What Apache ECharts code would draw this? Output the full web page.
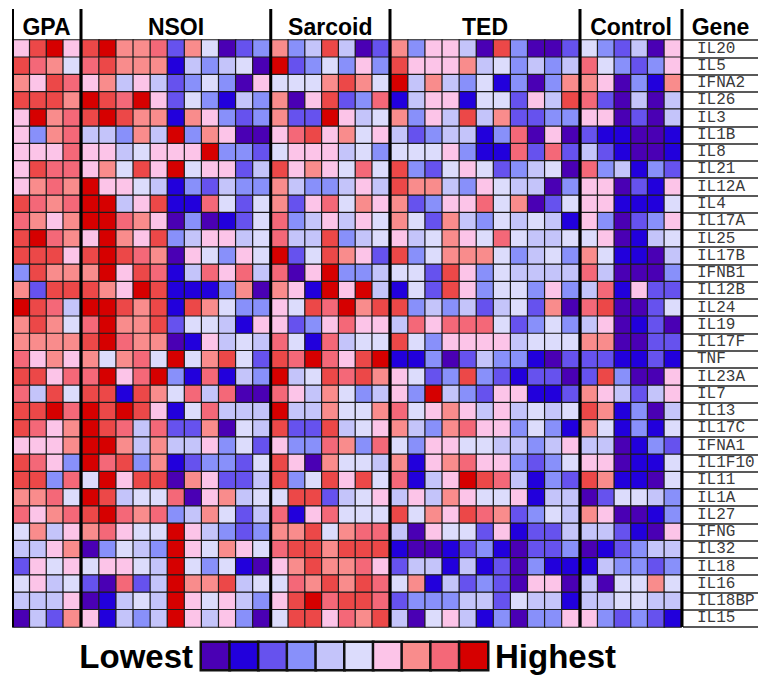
<!DOCTYPE html>
<html><head><meta charset="utf-8">
<script src="https://cdn.jsdelivr.net/npm/echarts@6/dist/echarts.min.js"></script>
<style>html,body{margin:0;padding:0;background:#fff}#c{width:758px;height:675px}</style>
</head><body><div id="c"></div>
<script>
const genes = ['IL20','IL5','IFNA2','IL26','IL3','IL1B','IL8','IL21','IL12A','IL4','IL17A','IL25','IL17B','IFNB1','IL12B','IL24','IL19','IL17F','TNF','IL23A','IL7','IL13','IL17C','IFNA1','IL1F10','IL11','IL1A','IL27','IFNG','IL32','IL18','IL16','IL18BP','IL15'];
const groups = ['GPA','NSOI','Sarcoid','TED','Control'];
const geneHeader = 'Gene';
const legendText = ['Lowest','Highest'];
const legendLevels = [1,2,3,4,5,6,7,8,9,10];

// expression level per cell (1 = lowest ... 10 = highest), rows follow `genes`
const GPA = [
[7,9.5,10,7],[9.5,9,8,6],[8,7,9.5,9],[9.5,9.5,9.5,8],[7,10,8,9],[7,4,8,9],[7,7,7,9],[7,9.5,9,9],
[7,8,9,8],[9.5,9,8,9],[9,8,7,8],[9.5,10,9,8],[9.5,9.5,9.5,7],[4,9.5,8,8],[8,3,9.5,9.5],[10,9.5,9,5],
[8,9.5,8,6],[8,8,8,8],[9,7,8,7],[9.5,9.5,7,9],[9,5,9.5,6],[9.5,9.5,10,9],[9.5,9,7,8],[7,7,7,8],
[9.5,9,7,4],[9.5,9.5,4,9],[8,8,9,6],[9,7,8,9],[6,8,5,7],[5,5,7,8],[3,7,6,7],[6,7,5,6],[5,5,5,7],[1,5,3,8]];
const NSOI = [
[9.5,10,8,8,9,3,8,6,1,3,4],[9,9.5,8,8,8,2,5,4,5,6,1],[7,8,5,7,5,3,4,6,4,1,7],[10,9.5,9,10,7,3,6,4,2,5,4],
[9.5,10,9.5,8,8,2,8,7,4,3,4],[5,5,4,8,5,10,4,8,7,1,1],[7,7,5,6,7,7,7,10,4,4,3],[7,8,6,9.5,7,10,6,7,7,3,5],
[10,7,7,6,5,2,4,3,5,4,4],[10,10,5,7,9.5,2,2,9,6,3,6],[10,10,9,8,7,1,4,1,2,3,6],[7,10,8,7,9.5,4,5,7,7,5,6],
[9.5,10,9.5,9,8,1,7,6,4,7,6],[8,10,7,9.5,9,2,5,9,7,9,5],[9.5,8,7,10,9.5,2,2,2,4,8,1],[10,10,9.5,8,9.5,2,9.5,8,6,4,4],
[9,10,8,8,9.5,3,6,6,5,2,7],[9.5,10,9,8,8,1,2,7,5,6,5],[8,6,8,9,6,10,6,8,9.5,6,3],[9,10,7,9,10,4,2,9,2,5,4],
[9.5,9.5,2,9.5,8,6,9,5,9,1,1],[10,9.5,10,9.5,7,2,6,9,5,5,5],[10,9.5,9,5,9,3,3,8,1,6,5],[10,10,8,5,8,5,5,7,4,6,3],
[10,9,9.5,4,8,2,3,4,4,3,6],[6,10,7,9.5,9.5,1,8,7,3,3,5],[10,9.5,5,6,6,9,1,7,8,5,6],[9.5,10,9,8,9,4,5,8,6,3,5],
[8,9,7,6,6,10,7,5,4,3,4],[1,4,6,5,4,10,7,6,8,7,6],[6,7,7,6,5,10,6,4,6,2,1],[3,1,9,3,5,10,8,8,9.5,5,6],
[1,2,5,6,5,10,7,6,7,5,4],[7,2,5,4,5,10,7,5,7,4,1]];
const Sarcoid = [
[8,4,5,9.5,5,1,3],[10,3,4,6,4,7,4],[6,6,6,8,9.5,8,6],[8,1,7,9.5,3,4,9],[8,3,3,10,7,5,6],[7,9,9.5,7,8,6,7],
[6,7,7,7,5,6,4],[9.5,7,8,7,6,9,6],[8,5,4,4,5,7,5],[8,3,7,9,6,8,7],[9,4,5,7,5,7,6],[9,5,5,9.5,4,5,6],
[10,3,6,9.5,8,7,3],[9,1,7,10,4,4,5],[8,7,2,10,7,10,5],[7,6,9.5,9,10,8,9.5],[7,3,4,7,9,7,7],[9,6,2,9,5,6,6],
[9.5,9,10,9,7,9.5,10],[10,5,6,9.5,9,9.5,8],[9,7,5,8,6,4,5],[10,5,5,8,6,6,8],[9.5,3,3,9.5,5,6,7],[7,4,4,9,8,4,9],
[9.5,7,1,8,6,6,5],[9.5,4,6,9.5,7,9.5,6],[6,9.5,9.5,3,5,6,7],[9,2,7,9,6,6,6],[8,8,9.5,6,8,9,9],
[9,9.5,9.5,8,9.5,9.5,9.5],[7,8,9.5,8,8,9,7],[6,9,8,9.5,8,9.5,9],[7,9.5,10,9,9.5,9.5,9],[6,9.5,9.5,7,9,8,9.5]];
const TED = [
[8,4,7,7,5,1,9.5,4,1,1,3],[9.5,7,7,7,8,5,6,4,5,4,5],[10,5,8,5,4,6,2,4,1,4,8],[2,5,7,7,2,6,6,3,7,5,9.5],
[8,4,7,5,9.5,5,8,3,3,4,4],[5,3,4,5,5,2,4,9,1,7,1],[6,6,6,7,4,2,2,9,3,9,3],[9.5,4,3,6,7,6,3,4,5,6,1],
[9.5,8,8,5,4,7,6,5,5,1,4],[8,3,4,7,7,9,6,8,1,3,6],[8,6,3,8,5,4,6,5,6,5,2],[7,5,6,8,7,6,9,6,5,5,6],
[9.5,4,6,8,8,8,6,4,5,6,4],[6,6,3,9.5,7,4,6,5,5,5,5],[2,6,3,9.5,7,4,6,6,4,7,4],[9.5,4,5,4,5,3,5,6,3,8,1],
[5,9,7,9,9,9,6,3,4,6,4],[9.5,6,4,7,7,7,7,5,6,6,6],[2,2,4,1,3,5,4,4,2,1,3],[7,6,3,4,9.5,4,3,2,3,3,1],
[7,4,10,5,4,3,7,7,2,2,3],[9,6,7,8,7,5,7,5,6,5,6],[8,5,4,8,9,7,7,4,6,4,2],[6,4,7,7,6,6,5,5,4,5,7],
[8,2,7,8,9,7,7,4,3,4,6],[9,2,5,7,10,9.5,9,5,2,4,3],[5,7,5,8,7,6,6,7,2,5,5],[9.5,6,8,7,9.5,9,8,3,4,6,5],
[5,1,7,6,6,3,7,2,3,3,5],[2,1,1,2,3,4,2,1,3,3,4],[3,5,5,2,5,2,3,1,4,2,2],[6,8,2,5,3,4,3,1,7,7,1],
[3,4,4,4,5,5,3,6,5,5,2],[5,1,6,7,5,2,4,1,4,4,7]];
const Control = [
[6,4,3,5,1,7],[9,6,4,3,4,7],[8,7,1,4,2,8],[9,3,1,5,1,5],[7,7,1,3,1,5],[3,2,2,1,1,2],[5,3,2,1,1,2],
[9,4,5,2,4,3],[7,7,1,3,2,7],[7,7,2,2,2,6],[7,4,1,3,4,7],[6,7,1,2,5,6],[8,6,2,2,1,5],[9,5,1,1,1,4],
[5,9,2,7,3,3],[9,9.5,1,1,3,6],[5,7,1,2,3,1],[8,8,1,1,3,3],[3,3,2,2,3,2],[3,9.5,4,1,1,7],[8,7,5,3,5,7],
[9.5,8,2,4,1,5],[8,6,2,4,2,6],[5,5,1,2,4,3],[7,7,1,2,2,6],[9.5,8,2,2,1,6],[1,3,6,6,5,4],[8,7,1,1,2,4],
[5,5,3,2,1,7],[1,2,3,4,5,5],[2,5,4,4,3,4],[5,1,6,6,8,6],[5,5,6,6,5,5],[7,4,3,4,3,2]];
const groupData = [GPA, NSOI, Sarcoid, TED, Control];

// ---- styles / layout ----
const levelColors = {1:'#4a00b4',2:'#2200dc',3:'#6652ee',4:'#8890fa',5:'#c4c4fa',6:'#dcdcfc',
  7:'#fcc4e8',8:'#f98c8c',9:'#f46878',9.5:'#ec4848',10:'#d60000'};
const edges = [[13,80],[82,270],[271.5,389],[391,579],[581,681]];
const geneCol = [683,758];
const gridTop = 40, gridBottom = 627;
const legendBox = {left:201, top:642, width:287, height:28};

const chart = echarts.init(document.getElementById('c'), null, {renderer:'svg'});
const grid = [], xAxis = [], yAxis = [], series = [], elements = [];
edges.forEach((e,i)=>{
  grid.push({left:e[0], top:gridTop, width:e[1]-e[0], height:gridBottom-gridTop});
  xAxis.push({type:'category', gridIndex:i, data:groupData[i][0].map((_,k)=>k), show:false});
  yAxis.push({type:'category', gridIndex:i, data:genes, inverse:true, show:false});
  const d = [];
  groupData[i].forEach((row,r)=>row.forEach((v,c)=>d.push([c,r,v])));
  series.push({type:'heatmap', xAxisIndex:i, yAxisIndex:i, data:d,
    itemStyle:{borderColor:'#1c1c1c', borderWidth:1.2}, emphasis:{disabled:true}, silent:true});
});
// gene column
grid.push({left:geneCol[0], top:gridTop, width:geneCol[1]-geneCol[0], height:gridBottom-gridTop});
xAxis.push({type:'value', gridIndex:5, min:0, max:1, show:false});
yAxis.push({type:'category', gridIndex:5, data:genes, inverse:true, position:'left',
  axisLine:{show:false}, axisTick:{show:false},
  axisLabel:{inside:true, interval:0, margin:14, fontFamily:'Liberation Mono', fontSize:16, color:'#3a3a3a', padding:[10,0,0,0]},
  splitLine:{show:true, interval:0, lineStyle:{color:'#222', width:1.5}}});
// legend
grid.push({left:legendBox.left, top:legendBox.top, width:legendBox.width, height:legendBox.height});
xAxis.push({type:'category', gridIndex:6, data:legendLevels, show:false});
yAxis.push({type:'category', gridIndex:6, data:[''], show:false});
series.push({type:'heatmap', xAxisIndex:6, yAxisIndex:6, data:legendLevels.map((v,i)=>[i,0,v]),
  itemStyle:{borderColor:'#111', borderWidth:2.5}, emphasis:{disabled:true}, silent:true});

// separators
const sepX = [edges[0][0]];
for (let i=0;i<edges.length-1;i++) sepX.push((edges[i][1]+edges[i+1][0])/2);
sepX.push((edges[4][1]+geneCol[0])/2);
sepX.forEach((x,i)=>elements.push({type:'line', silent:true, z:100,
  shape:{x1:x,y1:9,x2:x,y2:gridBottom}, style:{stroke:'#000', lineWidth:i===0?2:3}}));
const hdrFont = 'bold 23px "Liberation Sans", Arial, sans-serif';
edges.forEach((e,i)=>elements.push({type:'text', silent:true, x:(e[0]+e[1])/2, y:27,
  style:{text:groups[i], font:hdrFont, fill:'#000', align:'center', verticalAlign:'middle', textAlign:'center', textVerticalAlign:'middle'}}));
elements.push({type:'text', silent:true, x:(geneCol[0]+geneCol[1])/2, y:27,
  style:{text:geneHeader, font:hdrFont, fill:'#000', align:'center', verticalAlign:'middle', textAlign:'center', textVerticalAlign:'middle'}});
const lgFont = 'bold 33px "Liberation Sans", Arial, sans-serif';
const lgY = legendBox.top + legendBox.height/2;
elements.push({type:'text', silent:true, x:legendBox.left-8, y:lgY,
  style:{text:legendText[0], font:lgFont, fill:'#000', align:'right', verticalAlign:'middle', textAlign:'right', textVerticalAlign:'middle'}});
elements.push({type:'text', silent:true, x:legendBox.left+legendBox.width+7, y:lgY,
  style:{text:legendText[1], font:lgFont, fill:'#000', align:'left', verticalAlign:'middle', textAlign:'left', textVerticalAlign:'middle'}});

chart.setOption({
  animation:false,
  backgroundColor:'#fff',
  grid, xAxis, yAxis, series,
  visualMap:{type:'piecewise', show:false, seriesIndex:[0,1,2,3,4,5],
    pieces:Object.keys(levelColors).map(k=>({value:+k, color:levelColors[k]}))},
  graphic:{elements}
});
</script></body></html>
